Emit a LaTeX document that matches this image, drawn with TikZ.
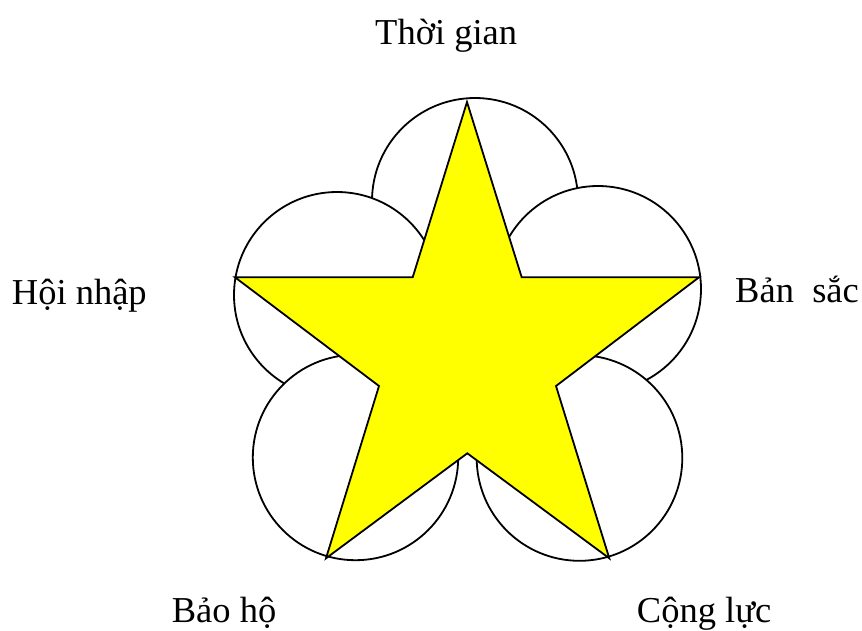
\documentclass[tikz,border=0pt]{standalone}
\usepackage{fontspec}
\setmainfont{Liberation Serif}
\definecolor{staryellow}{RGB}{255,255,0}
\begin{document}
\begin{tikzpicture}[x=1pt,y=-1pt,
  circ/.style={draw=black,fill=white,line width=1.8pt},
  starshape/.style={draw=black,fill=staryellow,line width=1.8pt,line join=miter},
  lbl/.style={font=\fontsize{36.5}{40}\selectfont,inner sep=0pt,anchor=base west}]
\useasboundingbox (0,0) rectangle (862,630);
% petals
\path[circ] (475,201) circle[radius=103];
\path[circ] (337,295) circle[radius=103];
\path[circ] (598,289) circle[radius=103];
\path[circ] (355.5,457.5) circle[radius=102.7];
\path[circ] (579.5,458) circle[radius=102.8];
% star
\path[starshape] (467,102) -- (521.7,277.3) -- (699,277.3) -- (556,386) -- (609.3,558.3)
  -- (467.3,453.3) -- (326,558.3) -- (379,386) -- (235,277.3) -- (412.7,277.3) -- cycle;
% labels
\node[lbl] (thoigian) at (375,44) {Thời gian};
\node[lbl] (hoinhap) at (11.7,304) {Hội nhập};
\node[lbl] (bansac) at (735,302.5) {Bản\ \ sắc};
\node[lbl] (baoho) at (171.7,622.3) {Bảo hộ};
\node[lbl] (conglu) at (636.7,622.3) {Cộng lực};
\end{tikzpicture}
\end{document}
